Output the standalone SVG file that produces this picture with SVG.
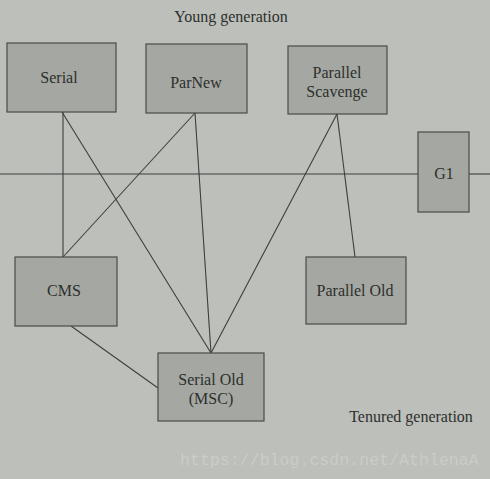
<svg xmlns="http://www.w3.org/2000/svg" width="490" height="479" viewBox="0 0 490 479">
<style>
.box{fill:#a4a7a2;stroke:#4a4b48;stroke-width:1.2}
.lbl{font-family:"Liberation Serif",serif;font-size:16px;fill:#2e2f2c;text-anchor:middle}
.ln{stroke:#3e3f3c;stroke-width:1.1;fill:none}
</style>
<rect width="490" height="479" fill="#bcbfba"/>
<text class="lbl" x="231" y="22">Young generation</text>
<text class="lbl" x="411" y="422">Tenured generation</text>
<g id="connectors">
<line class="ln" x1="0" y1="174" x2="418" y2="174"/>
<line class="ln" x1="469" y1="174" x2="490" y2="174"/>
<line class="ln" x1="63" y1="112" x2="63" y2="257"/>
<line class="ln" x1="62" y1="112" x2="211" y2="353"/>
<line class="ln" x1="195" y1="113" x2="63" y2="257"/>
<line class="ln" x1="195" y1="113" x2="211" y2="353"/>
<line class="ln" x1="337" y1="114" x2="211" y2="353"/>
<line class="ln" x1="337" y1="114" x2="355" y2="257"/>
<line class="ln" x1="71" y1="326" x2="158" y2="388"/>
</g>
<g id="serial"><rect class="box" x="7" y="43" width="109" height="69"/><text class="lbl" x="59" y="83">Serial</text></g>
<g id="parnew"><rect class="box" x="146" y="44" width="101" height="69"/><text class="lbl" x="196" y="88">ParNew</text></g>
<g id="parallel-scavenge"><rect class="box" x="288" y="46" width="99" height="68"/><text class="lbl" x="337" y="78">Parallel</text><text class="lbl" x="337" y="97">Scavenge</text></g>
<g id="g1"><rect class="box" x="418" y="132" width="51" height="80"/><text class="lbl" x="444" y="179">G1</text></g>
<g id="cms"><rect class="box" x="15" y="257" width="102" height="69"/><text class="lbl" x="64" y="296">CMS</text></g>
<g id="parallel-old"><rect class="box" x="306" y="257" width="100" height="67"/><text class="lbl" x="355" y="296">Parallel Old</text></g>
<g id="serial-old"><rect class="box" x="158" y="353" width="106" height="68"/><text class="lbl" x="211" y="385">Serial Old</text><text class="lbl" x="211" y="404">(MSC)</text></g>
<text x="180" y="465" font-family="Liberation Mono,monospace" font-size="16.6" fill="#d4d6d2" fill-opacity="0.6">https://blog.csdn.net/AthlenaA</text>
</svg>
